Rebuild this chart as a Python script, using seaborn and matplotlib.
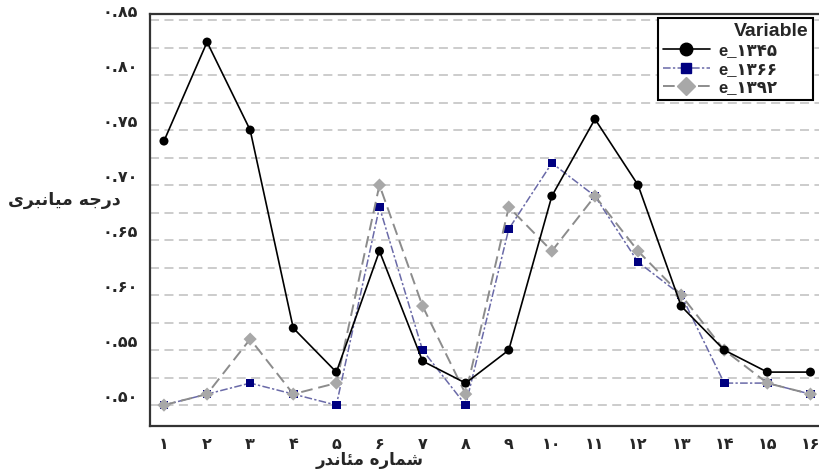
import matplotlib
matplotlib.use("Agg")
import matplotlib.pyplot as plt
import numpy as np
import pandas as pd
import seaborn as sns
from matplotlib.lines import Line2D
from matplotlib.ticker import MultipleLocator

# ---------------- data ----------------
meander = list(range(1, 17))
e_1345 = [0.74, 0.83, 0.75, 0.57, 0.53, 0.64, 0.54, 0.52, 0.55, 0.69, 0.76, 0.70, 0.59, 0.55, 0.53, 0.53]
e_1366 = [0.50, 0.51, 0.52, 0.51, 0.50, 0.68, 0.55, 0.50, 0.66, 0.72, 0.69, 0.63, 0.60, 0.52, 0.52, 0.51]
e_1392 = [0.50, 0.51, 0.56, 0.51, 0.52, 0.70, 0.59, 0.51, 0.68, 0.64, 0.69, 0.64, 0.60, 0.55, 0.52, 0.51]
series_labels = ["e_۱۳۴۵", "e_۱۳۶۶", "e_۱۳۹۲"]
x_tick_labels = ["۱", "۲", "۳", "۴", "۵", "۶", "۷", "۸", "۹", "۱۰", "۱۱", "۱۲", "۱۳", "۱۴", "۱۵", "۱۶"]
y_ticks = [0.50, 0.55, 0.60, 0.65, 0.70, 0.75, 0.80, 0.85]
y_tick_labels = ["۰.۵۰", "۰.۵۵", "۰.۶۰", "۰.۶۵", "۰.۷۰", "۰.۷۵", "۰.۸۰", "۰.۸۵"]
legend_title = "Variable"
x_label = "شماره مئاندر"
y_label = "درجه میانبری"

# ---------------- minimal Persian shaping (matplotlib has no bidi/shaping) ----------------
FORMS = {
    "د": ("\uFEA9", "\uFEAA"), "ر": ("\uFEAD", "\uFEAE"), "ا": ("\uFE8D", "\uFE8E"),
    "ج": ("\uFE9D", "\uFE9E", "\uFE9F", "\uFEA0"), "ه": ("\uFEE9", "\uFEEA", "\uFEEB", "\uFEEC"),
    "م": ("\uFEE1", "\uFEE2", "\uFEE3", "\uFEE4"), "ی": ("\uFBFC", "\uFBFD", "\uFBFE", "\uFBFF"),
    "ن": ("\uFEE5", "\uFEE6", "\uFEE7", "\uFEE8"), "ب": ("\uFE8F", "\uFE90", "\uFE91", "\uFE92"),
    "ش": ("\uFEB5", "\uFEB6", "\uFEB7", "\uFEB8"), "ئ": ("\uFE89", "\uFE8A", "\uFE8B", "\uFE8C"),
}


def shape(text):
    out = []
    for i, ch in enumerate(text):
        if ch not in FORMS:
            out.append(ch)
            continue
        prev = text[i - 1] if i > 0 else ""
        nxt = text[i + 1] if i + 1 < len(text) else ""
        jp = prev in FORMS and len(FORMS[prev]) == 4
        jn = len(FORMS[ch]) == 4 and nxt in FORMS
        f = FORMS[ch]
        if jp and jn:
            out.append(f[3])
        elif jp:
            out.append(f[1])
        elif jn:
            out.append(f[2])
        else:
            out.append(f[0])
    return "".join(out)[::-1]


# ---------------- long-form table ----------------
df = pd.DataFrame({
    "meander": meander * 3,
    "value": e_1345 + e_1366 + e_1392,
    "variable": [series_labels[0]] * 16 + [series_labels[1]] * 16 + [series_labels[2]] * 16,
})

sns.set_style("white")
plt.rcParams["font.family"] = ["Liberation Sans", "DejaVu Sans"]
plt.rcParams["font.weight"] = "bold"

fig = plt.figure(figsize=(8.2, 4.71), dpi=100)
ax = fig.add_axes([150 / 820, 45 / 471, 1 - 150 / 820 + 0.002, (426 - 14) / 471])

line_colors = {series_labels[0]: "#000000", series_labels[1]: "#6a6aa8", series_labels[2]: "#8c8c8c"}
mark_colors = {series_labels[0]: "#000000", series_labels[1]: "#000080", series_labels[2]: "#a8a8a8"}
markers = {series_labels[0]: "o", series_labels[1]: "s", series_labels[2]: "D"}
dashes = {series_labels[0]: "", series_labels[1]: (5, 1.5, 1.5, 1.5), series_labels[2]: (6, 3)}
z = {series_labels[0]: 5, series_labels[1]: 3, series_labels[2]: 4}
msize = {series_labels[0]: 42, series_labels[1]: 38, series_labels[2]: 45}
lw = {series_labels[0]: 1.2, series_labels[1]: 1.1, series_labels[2]: 1.4}

for lab in [series_labels[1], series_labels[2], series_labels[0]]:
    sub = df[df["variable"] == lab]
    sns.lineplot(data=sub, x="meander", y="value", color=line_colors[lab], ax=ax,
                 linewidth=lw[lab], dashes=False, legend=False, zorder=z[lab])
    if dashes[lab]:
        ax.lines[-1].set_dashes(dashes[lab])
    sns.scatterplot(data=sub, x="meander", y="value", color=mark_colors[lab], marker=markers[lab],
                    s=msize[lab], edgecolor="none", ax=ax, legend=False, zorder=z[lab] + 0.5)

# ---------------- axes ----------------
ax.set_xlim(0.676, 16.26)
ax.set_ylim(0.481, 0.8555)
ax.set_xticks(meander)
ax.set_xticklabels(x_tick_labels, fontsize=11.5, fontweight="bold", family=["DejaVu Sans"])
ax.set_yticks(y_ticks)
ax.set_yticklabels(y_tick_labels, fontsize=11.5, fontweight="bold", family=["DejaVu Sans"])
for t in ax.get_yticklabels():
    t.set_verticalalignment("bottom")
ax.yaxis.set_minor_locator(MultipleLocator(0.025))
ax.tick_params(axis="both", which="major", direction="out", length=7, width=1.2, color="#333333", pad=1.5)
ax.tick_params(axis="y", which="minor", length=0)
ax.tick_params(axis="x", which="major", pad=1)
ax.grid(False)
ax.yaxis.grid(True, which="both", color="#c8c8c8", linestyle=(0, (5, 3)), linewidth=1.3, zorder=0)
ax.set_axisbelow(True)

for side in ["left", "bottom", "top"]:
    ax.spines[side].set_visible(True)
    ax.spines[side].set_color("#333333")
    ax.spines[side].set_linewidth(1.6)
ax.spines["right"].set_visible(False)
ax.set_xlabel("")
ax.set_ylabel("")

fig.text(64 / 820, 1 - 200 / 471, shape(y_label), ha="center", va="center", fontsize=12.5,
         fontweight="bold", family=["DejaVu Sans"])
fig.text(370 / 820, 1 - 460 / 471, shape(x_label), ha="center", va="center", fontsize=12,
         fontweight="bold", family=["DejaVu Sans"])

# ---------------- legend ----------------
handles = []
for lab in series_labels:
    h = Line2D([0], [0], color=line_colors[lab], linewidth=lw[lab], marker=markers[lab],
               markersize=9 if lab != series_labels[1] else 7.5, markerfacecolor=mark_colors[lab],
               markeredgecolor=mark_colors[lab])
    if dashes[lab]:
        h.set_dashes(dashes[lab])
    handles.append(h)
leg = ax.legend(handles, series_labels, title=legend_title, loc="upper left", mode="expand",
                bbox_to_anchor=(658 / 820, 1 - 100 / 471, 155 / 820, 82 / 471),
                bbox_transform=fig.transFigure,
                frameon=True, fancybox=False, edgecolor="black", framealpha=1,
                fontsize=12, title_fontsize=14, handlelength=2.8, handletextpad=0.5,
                labelspacing=0.2, borderpad=0.3, borderaxespad=0)
leg.get_frame().set_linewidth(1.5)
leg.get_title().set_fontweight("bold")
for t in leg.get_texts():
    t.set_fontweight("bold")
leg._legend_box.align = "right"
leg.set_zorder(10)

fig.savefig("out.png", dpi=100)
